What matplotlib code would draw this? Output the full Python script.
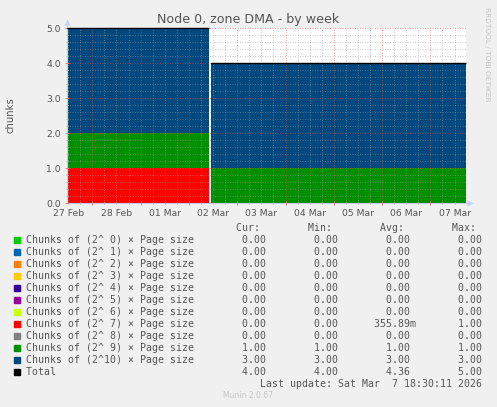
import matplotlib
matplotlib.use('Agg')
import matplotlib.pyplot as plt
import matplotlib.dates as mdates
from matplotlib.ticker import MultipleLocator, NullFormatter, FormatStrFormatter
from matplotlib.patches import Rectangle
import pandas as pd

W, H = 497, 407

# two stretches of data with a short gap of unknown values between them
seg_start = pd.to_datetime(['2026-02-27 11:35', '2026-03-02 11:00'])
seg_end = pd.to_datetime(['2026-03-02 10:00', '2026-03-07 17:32'])

orders = [' 0', ' 1', ' 2', ' 3', ' 4', ' 5', ' 6', ' 7', ' 8', ' 9', '10']
colors = ['#00CC00', '#0066B3', '#FF8000', '#FFCC00', '#330099', '#990099',
          '#CCFF00', '#FF0000', '#808080', '#008F00', '#00487D']
seg1_vals = [0, 0, 0, 0, 0, 0, 0, 1, 0, 1, 3]
seg2_vals = [0, 0, 0, 0, 0, 0, 0, 0, 0, 1, 3]

cur_vals = [0, 0, 0, 0, 0, 0, 0, 0, 0, 1, 3]
min_vals = [0, 0, 0, 0, 0, 0, 0, 0, 0, 1, 3]
avg_vals = [0, 0, 0, 0, 0, 0, 0, 0.35589, 0, 1, 3]
max_vals = [0, 0, 0, 0, 0, 0, 0, 1, 0, 1, 3]
total_stats = [4, 4, 4.36, 5]

day_labels = pd.date_range('2026-02-27 12:00', '2026-03-07 12:00', freq='D')

TXT = '#555555'


def fx(x):
    return x / W


def fy(y):
    return 1 - y / H


def fmt(v):
    if v != 0 and abs(v) < 1:
        return '%6.2fm' % (v * 1000)
    return '%6.2f ' % v


fig = plt.figure(figsize=(W / 100, H / 100), dpi=100, facecolor='#F0F0F0')
ax = fig.add_axes([fx(67.3), fy(203), (465.7 - 67.3) / W, 175 / H])
ax.set_facecolor('white')

x0 = mdates.date2num(seg_start)
x1 = mdates.date2num(seg_end)
for j, vals in enumerate([seg1_vals, seg2_vals]):
    bottom = 0
    for i, v in enumerate(vals):
        if v > 0:
            ax.bar(x0[j], v, width=x1[j] - x0[j], bottom=bottom, align='edge',
                   color=colors[i], linewidth=0, zorder=1)
        bottom += v
    ax.plot([x0[j], x1[j]], [bottom, bottom], color='black', lw=1.0,
            zorder=3, clip_on=False, solid_capstyle='butt')

ax.set_xlim(x0[0], x1[-1])
ax.set_ylim(0, 5)

ax.xaxis.set_major_locator(mdates.DayLocator())
ax.xaxis.set_minor_locator(mdates.HourLocator(byhour=[6, 12, 18]))
ax.xaxis.set_major_formatter(NullFormatter())
ax.yaxis.set_major_locator(MultipleLocator(1))
ax.yaxis.set_minor_locator(MultipleLocator(0.2))
ax.yaxis.set_major_formatter(FormatStrFormatter('%.1f'))

ax.set_axisbelow(False)
ax.grid(True, which='major', color='#E05050', alpha=0.55, lw=0.72,
        linestyle=(0, (1, 1.5)))
ax.grid(True, which='minor', color='#999999', alpha=0.5, lw=0.72,
        linestyle=(0, (1, 1.5)))
ax.tick_params(which='major', direction='inout', length=3, width=0.7,
               color='#E08080', labelsize=6.7, labelcolor=TXT, pad=3)
ax.tick_params(which='minor', direction='inout', length=2, width=0.7,
               color='#BBBBBB')

for s in ['top', 'right']:
    ax.spines[s].set_visible(False)
for s in ['left', 'bottom']:
    ax.spines[s].set_color('#C8CCF4')
    ax.spines[s].set_linewidth(0.8)
ax.plot([0, 0], [1, 1.035], color='#C8CCF4', lw=0.8, transform=ax.transAxes,
        clip_on=False)
ax.plot([1, 1.012], [0, 0], color='#C8CCF4', lw=0.8, transform=ax.transAxes,
        clip_on=False)
ax.plot([0], [1.035], marker='^', ms=4, color='#C8CCF4', mec='none',
        transform=ax.transAxes, clip_on=False)
ax.plot([1.012], [0], marker='>', ms=4, color='#C8CCF4', mec='none',
        transform=ax.transAxes, clip_on=False)

for d in day_labels:
    ax.text(mdates.date2num(d), -6 / 175, d.strftime('%d %b'),
            transform=ax.get_xaxis_transform(), ha='center', va='top',
            fontsize=6.7, color=TXT, clip_on=False)

fig.text(fx(248.5), fy(20), 'Node 0, zone DMA - by week', ha='center',
         va='center', fontsize=9.1, color=TXT)
fig.text(fx(11), fy(115), 'chunks', rotation=90, ha='center', va='center',
         fontsize=7.3, color=TXT)
fig.text(fx(487), fy(54), 'RRDTOOL / TOBI OETIKER', rotation=270,
         ha='center', va='center', fontsize=5.3, color='#C4C4C4')

# legend block
mono = dict(family='DejaVu Sans Mono', fontsize=7.13, color=TXT,
            va='center', ha='left')
row0, step = 239.7, 12.0
header = ' ' * 35 + 'Cur:' + ' ' * 8 + 'Min:' + ' ' * 8 + 'Avg:' + ' ' * 8 + 'Max:'
fig.text(fx(26.3), fy(row0 - step), header, **mono)

for i, o in enumerate(orders):
    y = row0 + i * step
    fig.patches.append(Rectangle((fx(14), fy(y + 3)), 6 / W, 6 / H,
                                 transform=fig.transFigure, color=colors[i],
                                 figure=fig))
    label = ('Chunks of (2^%s) \u00d7 Page size' % o).ljust(34)
    row = label + '     '.join(fmt(v) for v in
                                [cur_vals[i], min_vals[i], avg_vals[i], max_vals[i]])
    fig.text(fx(26.3), fy(y), row, **mono)

y = row0 + len(orders) * step
fig.patches.append(Rectangle((fx(14), fy(y + 3)), 6 / W, 6 / H,
                             transform=fig.transFigure, color='black',
                             figure=fig))
fig.text(fx(26.3), fy(y), 'Total'.ljust(34) + '     '.join(fmt(v) for v in total_stats),
         **mono)

fig.text(fx(482.3), fy(y + step), 'Last update: Sat Mar  7 18:30:11 2026',
         **{**mono, 'ha': 'right'})
fig.text(fx(248), fy(396), 'Munin 2.0.67', ha='center', va='center',
         fontsize=5.5, color='#C4C4C4')

fig.savefig('out.png', dpi=100, facecolor=fig.get_facecolor())
